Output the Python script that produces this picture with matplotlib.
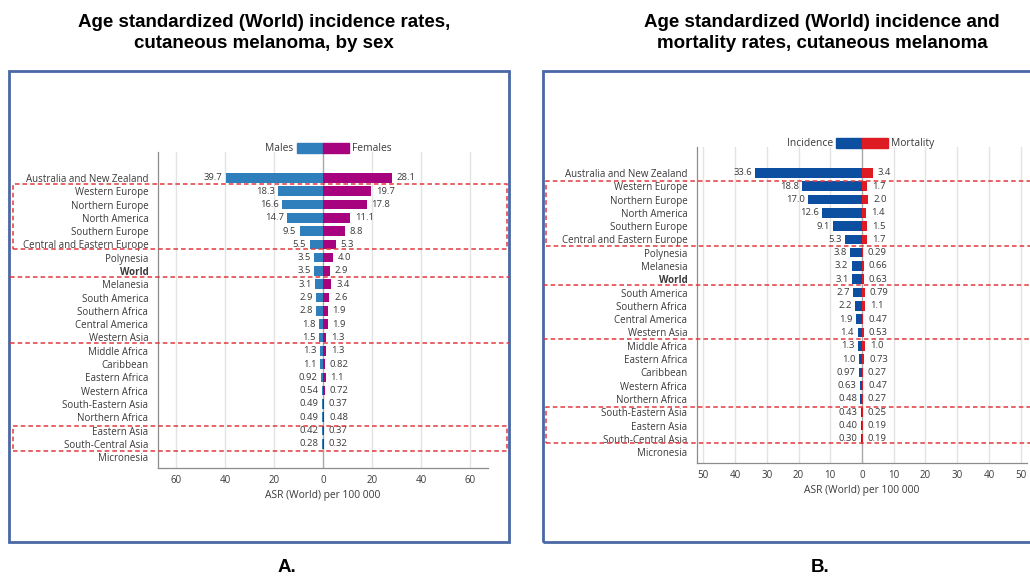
import matplotlib
matplotlib.use("Agg")
import matplotlib.pyplot as plt
import numpy as np
from matplotlib.patches import Rectangle
from matplotlib.lines import Line2D

W, H = 1030, 578
NAN = float("nan")

# Panel A: incidence by sex
sex_regions = [
    "Australia and New Zealand", "Western Europe", "Northern Europe", "North America",
    "Southern Europe", "Central and Eastern Europe", "Polynesia", "World", "Melanesia",
    "South America", "Southern Africa", "Central America", "Western Asia", "Middle Africa",
    "Caribbean", "Eastern Africa", "Western Africa", "South-Eastern Asia", "Northern Africa",
    "Eastern Asia", "South-Central Asia", "Micronesia",
]
males = [39.7, 18.3, 16.6, 14.7, 9.5, 5.5, 3.5, 3.5, 3.1, 2.9, 2.8, 1.8, 1.5, 1.3,
         1.1, 0.92, 0.54, 0.49, 0.49, 0.42, 0.28, NAN]
females = [28.1, 19.7, 17.8, 11.1, 8.8, 5.3, 4.0, 2.9, 3.4, 2.6, 1.9, 1.9, 1.3, 1.3,
           0.82, 1.1, 0.72, 0.37, 0.48, 0.37, 0.32, NAN]
sex_ticks = [-60, -40, -20, 0, 20, 40, 60]

# Panel B: incidence and mortality
im_regions = [
    "Australia and New Zealand", "Western Europe", "Northern Europe", "North America",
    "Southern Europe", "Central and Eastern Europe", "Polynesia", "Melanesia", "World",
    "South America", "Southern Africa", "Central America", "Western Asia", "Middle Africa",
    "Eastern Africa", "Caribbean", "Western Africa", "Northern Africa", "South-Eastern Asia",
    "Eastern Asia", "South-Central Asia", "Micronesia",
]
incidence = [33.6, 18.8, 17.0, 12.6, 9.1, 5.3, 3.8, 3.2, 3.1, 2.7, 2.2, 1.9, 1.4, 1.3,
             1.0, 0.97, 0.63, 0.48, 0.43, 0.40, 0.30, NAN]
mortality = [3.4, 1.7, 2.0, 1.4, 1.5, 1.7, 0.29, 0.66, 0.63, 0.79, 1.1, 0.47, 0.53, 1.0,
             0.73, 0.27, 0.47, 0.27, 0.25, 0.19, 0.19, NAN]
im_ticks = [-50, -40, -30, -20, -10, 0, 10, 20, 30, 40, 50]

TXT = "#3a3a3a"
GRID = "#e3e3e3"
DASH = "#e0393e"
FRAME = "#4a68a6"
LABEL_FONT = ["Open Sans", "DejaVu Sans"]
TITLE_FONT = ["Liberation Sans Narrow", "Liberation Sans", "DejaVu Sans"]

fig = plt.figure(figsize=(W / 100, H / 100), dpi=100)
fig.patch.set_facecolor("white")


def fx(px):
    return px / W


def fy(py):
    return 1 - py / H


def fmt(v):
    return f"{v:.1f}" if v >= 1 else f"{v:.2f}"


def panel(x0, x1, ytop, ybot, lim, ticks, regions, lvals, rvals, cl, cr, names):
    ax = fig.add_axes([fx(x0), fy(ybot), fx(x1 - x0), (ybot - ytop) / H])
    n = len(regions)
    y = np.arange(n)
    lv = np.array(lvals)
    rv = np.array(rvals)
    ax.barh(y, -lv, height=0.72, color=cl, linewidth=0, zorder=3)
    ax.barh(y, rv, height=0.72, color=cr, linewidth=0, zorder=3)
    for i in range(n):
        if not np.isnan(lv[i]):
            ax.annotate(fmt(lv[i]), (-lv[i], i), xytext=(-2.5, 0), textcoords="offset points",
                        ha="right", va="center", fontsize=6.8, color=TXT,
                        family=LABEL_FONT, zorder=4)
        if not np.isnan(rv[i]):
            ax.annotate(fmt(rv[i]), (rv[i], i), xytext=(3.5, 0), textcoords="offset points",
                        ha="left", va="center", fontsize=6.8, color=TXT,
                        family=LABEL_FONT, zorder=4)
    ax.set_xlim(-lim, lim)
    ax.set_ylim(n - 1 + 0.82, -1.95)
    ax.set_xticks(ticks)
    ax.set_xticklabels([str(abs(t)) for t in ticks], fontsize=7.0, color=TXT,
                       family=LABEL_FONT)
    ax.set_yticks(y)
    ax.set_yticklabels(regions, fontsize=7.0, color=TXT, family=LABEL_FONT)
    for lab in ax.get_yticklabels():
        if lab.get_text() == "World":
            lab.set_fontweight("bold")
    ax.tick_params(axis="both", length=0)
    ax.tick_params(axis="y", pad=7)
    ax.tick_params(axis="x", pad=5)
    for t in ticks:
        ax.axvline(t, color="#a8a8a8" if t == 0 else GRID, lw=1.0, zorder=1)
    for s in ("top", "right"):
        ax.spines[s].set_visible(False)
    for s in ("left", "bottom"):
        ax.spines[s].set_color("#8c8c8c")
        ax.spines[s].set_linewidth(0.9)
    ax.set_xlabel("ASR (World) per 100 000", fontsize=7.4, color=TXT,
                  family=LABEL_FONT, labelpad=3)
    # legend swatches above the plot
    sw = 26 / ((x1 - x0) / (2 * lim))
    yc = -2.25
    ax.add_patch(Rectangle((-sw, yc - 0.38), sw, 0.76, color=cl, clip_on=False, zorder=3))
    ax.add_patch(Rectangle((0, yc - 0.38), sw, 0.76, color=cr, clip_on=False, zorder=3))
    ax.text(-sw - lim * 0.02, yc, names[0], ha="right", va="center", fontsize=7.4,
            color=TXT, family=LABEL_FONT)
    ax.text(sw + lim * 0.02, yc, names[1], ha="left", va="center", fontsize=7.4,
            color=TXT, family=LABEL_FONT)
    return ax


panel(158, 488, 152, 468, 67.3, sex_ticks, sex_regions, males, females,
      "#2f7fbc", "#a8037f", ("Males", "Females"))
panel(697, 1027, 147, 463, 52.0, im_ticks, im_regions, incidence, mortality,
      "#0c4fa1", "#de1b22", ("Incidence", "Mortality"))


def frame(x0, y0, x1, y1):
    fig.add_artist(Rectangle((fx(x0), fy(y1)), fx(x1 - x0), (y1 - y0) / H,
                             transform=fig.transFigure, fill=False,
                             edgecolor=FRAME, lw=2.0, zorder=0))


def dbox(x0, y0, x1, y1):
    fig.add_artist(Rectangle((fx(x0), fy(y1)), fx(x1 - x0), (y1 - y0) / H,
                             transform=fig.transFigure, fill=False,
                             edgecolor=DASH, lw=1.1, linestyle=(0, (3.0, 2.0)),
                             zorder=10))


def dline(x0, x1, yy):
    fig.add_artist(Line2D([fx(x0), fx(x1)], [fy(yy), fy(yy)],
                          transform=fig.transFigure, color=DASH, lw=1.1,
                          linestyle=(0, (3.0, 2.0)), zorder=10))


frame(9, 71, 509, 542)
frame(543, 71, 1040, 542)

# highlighted groups, panel A
dbox(13, 184, 507, 249)
dline(10, 510, 277)
dline(10, 510, 343)
dbox(13, 426, 507, 451)

# highlighted groups, panel B
dbox(546, 181, 1040, 246)
dline(543, 1030, 285)
dline(543, 1030, 339)
dbox(546, 407, 1040, 443)

fig.text(fx(264), fy(33), "Age standardized (World) incidence rates,\ncutaneous melanoma, by sex",
         ha="center", va="center", fontsize=13.5, fontweight="bold", family=TITLE_FONT,
         linespacing=1.35, color="black")
fig.text(fx(822), fy(33), "Age standardized (World) incidence and\nmortality rates, cutaneous melanoma",
         ha="center", va="center", fontsize=13.5, fontweight="bold", family=TITLE_FONT,
         linespacing=1.35, color="black")
fig.text(fx(287), fy(568), "A.", ha="center", va="center", fontsize=13.5,
         fontweight="bold", family=TITLE_FONT)
fig.text(fx(820), fy(568), "B.", ha="center", va="center", fontsize=13.5,
         fontweight="bold", family=TITLE_FONT)

fig.savefig("out.png", dpi=100, facecolor="white")
